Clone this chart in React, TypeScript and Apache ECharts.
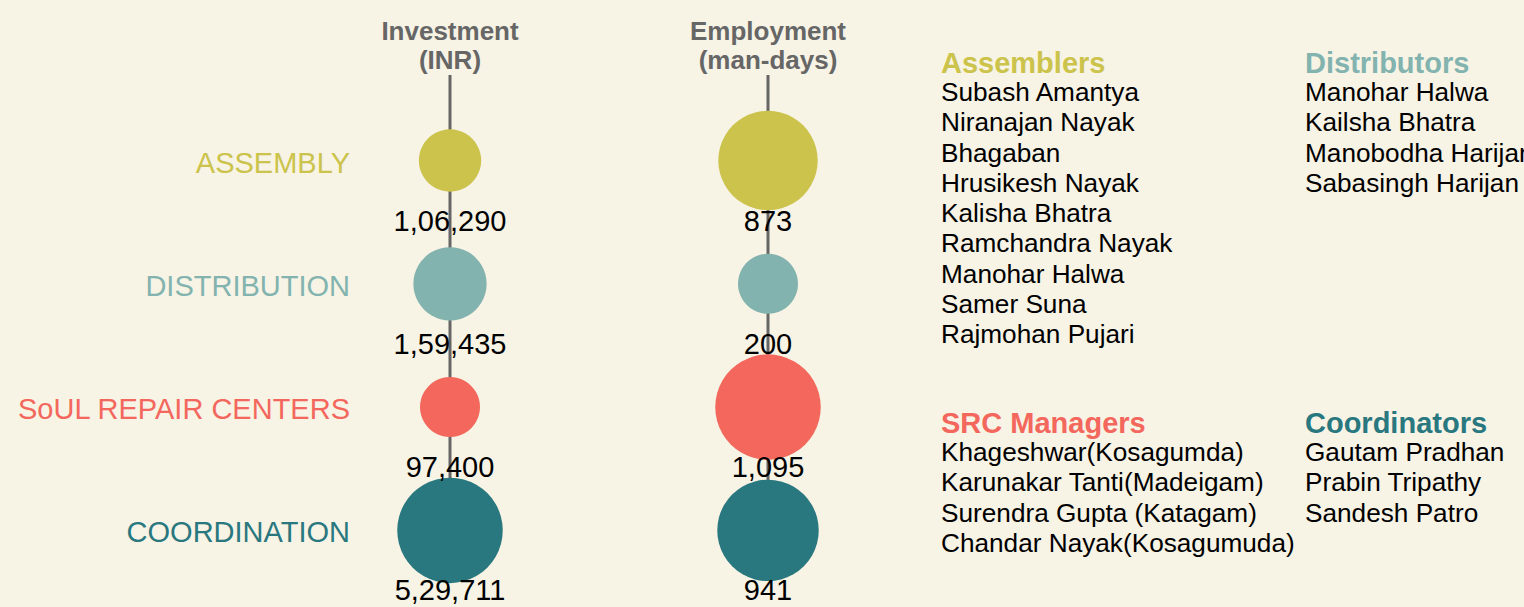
import React, { useEffect, useRef } from "react";
import * as echarts from "echarts";

const categories = ["ASSEMBLY", "DISTRIBUTION", "SoUL REPAIR CENTERS", "COORDINATION"];
const categoryColors = ["#cbc34b", "#83b3af", "#f3675c", "#29777f"];
const columns = ["Investment\n(INR)", "Employment\n(man-days)"];
const investment = [106290, 159435, 97400, 529711];
const employment = [873, 200, 1095, 941];

const assemblers = [
  "Subash Amantya",
  "Niranajan Nayak",
  "Bhagaban",
  "Hrusikesh Nayak",
  "Kalisha Bhatra",
  "Ramchandra Nayak",
  "Manohar Halwa",
  "Samer Suna",
  "Rajmohan Pujari",
];
const distributors = ["Manohar Halwa", "Kailsha Bhatra", "Manobodha Harijan", "Sabasingh Harijan"];
const srcManagers = [
  "Khageshwar(Kosagumda)",
  "Karunakar Tanti(Madeigam)",
  "Surendra Gupta (Katagam)",
  "Chandar Nayak(Kosagumuda)",
];
const coordinators = ["Gautam Pradhan", "Prabin Tripathy", "Sandesh Patro"];

const FONT = "'Liberation Sans', Arial, sans-serif";
const BG = "#f7f3e5";

function indianFormat(n: number): string {
  const s = String(Math.round(n));
  if (s.length <= 3) return s;
  const last3 = s.slice(-3);
  let rest = s.slice(0, -3);
  const parts: string[] = [];
  while (rest.length > 2) {
    parts.unshift(rest.slice(-2));
    rest = rest.slice(0, -2);
  }
  if (rest.length) parts.unshift(rest);
  return parts.join(",") + "," + last3;
}

function sizeScale(values: number[], minD: number, maxD: number) {
  const lo = Math.log(Math.min(...values));
  const hi = Math.log(Math.max(...values));
  return (v: number) => minD + ((maxD - minD) * (Math.log(v) - lo)) / (hi - lo);
}

export default function App() {
  const ref = useRef<HTMLDivElement>(null);
  useEffect(() => {
    if (!ref.current) return;
    const chart = echarts.init(ref.current, undefined, { renderer: "svg" });
    const W = 1524;
    const H = 607;
    const colPx0 = 450;
    const colUnit = 318;
    const rowPx0 = 160.5;
    const rowUnit = 123.3;
    const xMin = -colPx0 / colUnit;
    const xMax = (W - colPx0) / colUnit;
    const yMin = -rowPx0 / rowUnit;
    const yMax = (H - rowPx0) / rowUnit;
    const lineTop = (75 - rowPx0) / rowUnit;

    const columnValues = [investment, employment];
    const scatterSeries = columnValues.map((vals, c) => {
      const sc = sizeScale(vals, 60, 105.5);
      return {
        type: "scatter",
        z: 3,
        symbol: "circle",
        itemStyle: { opacity: 1 },
        data: vals.map((v, i) => ({
          value: [c, i, v],
          itemStyle: { color: categoryColors[i], opacity: 1 },
        })),
        symbolSize: (d: number[]) => sc(d[2]),
        label: {
          show: true,
          position: "inside",
          offset: [0, 60],
          fontFamily: FONT,
          fontSize: 29,
          color: "#000",
          opacity: 1,
          formatter: (p: any) => indianFormat(p.value[2]),
        },
        silent: true,
      };
    });

    const lineSeries = columns.map((_, c) => ({
      type: "line",
      z: 1,
      symbol: "none",
      clip: false,
      data: [
        [c, lineTop],
        [c, categories.length - 1],
      ],
      lineStyle: { color: "#666666", width: 3 },
      silent: true,
    }));

    const catLabelSeries = {
      type: "scatter",
      z: 2,
      symbolSize: 0,
      itemStyle: { opacity: 1 },
      data: categories.map((name, i) => ({
        value: [0, i],
        name,
        label: { color: categoryColors[i] },
      })),
      label: {
        show: true,
        position: "inside",
        align: "right",
        offset: [-100, 2],
        fontFamily: FONT,
        fontSize: 29,
        opacity: 1,
        formatter: (p: any) => p.name,
      },
      silent: true,
    };

    const groups = [
      { title: "Assemblers", color: categoryColors[0], names: assemblers, x: 941, y: 63 },
      { title: "Distributors", color: categoryColors[1], names: distributors, x: 1305, y: 63 },
      { title: "SRC Managers", color: categoryColors[2], names: srcManagers, x: 941, y: 423 },
      { title: "Coordinators", color: categoryColors[3], names: coordinators, x: 1305, y: 423 },
    ];
    const lineH = 30.3;
    const graphics: any[] = [];
    columns.forEach((t, c) => {
      graphics.push({
        type: "text",
        x: colPx0 + c * colUnit,
        y: 45.5,
        silent: true,
        style: {
          text: t,
          fill: "#666666",
          font: `bold 26px ${FONT}`,
          lineHeight: 29,
          align: "center",
          verticalAlign: "middle",
        },
      });
    });
    groups.forEach((g) => {
      graphics.push({
        type: "text",
        x: g.x,
        y: g.y,
        silent: true,
        style: {
          text: g.title,
          fill: g.color,
          font: `bold 29px ${FONT}`,
          align: "left",
          verticalAlign: "middle",
        },
      });
      graphics.push({
        type: "text",
        x: g.x,
        y: g.y + 29 - lineH / 2,
        silent: true,
        style: {
          text: g.names.join("\n"),
          fill: "#000000",
          font: `26.2px ${FONT}`,
          lineHeight: lineH,
          align: "left",
          verticalAlign: "top",
        },
      });
    });

    chart.setOption({
      animation: false,
      backgroundColor: BG,
      grid: { left: 0, right: 0, top: 0, bottom: 0, containLabel: false },
      xAxis: { type: "value", min: xMin, max: xMax, show: false },
      yAxis: { type: "value", min: yMin, max: yMax, inverse: true, show: false },
      series: [...lineSeries, catLabelSeries, ...scatterSeries],
      graphic: graphics,
    });
    return () => chart.dispose();
  }, []);
  return (
    <div
      ref={ref}
      style={{ position: "fixed", left: 0, top: 0, width: 1524, height: 607, background: BG }}
    />
  );
}
